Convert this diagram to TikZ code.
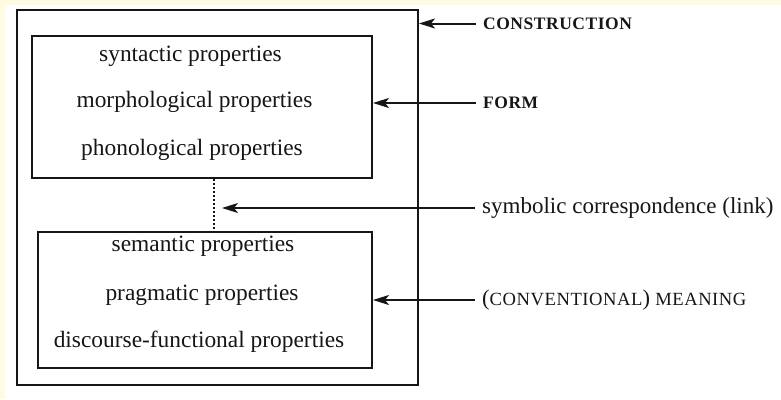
\documentclass[tikz,border=0pt]{standalone}
\usepackage{fontspec}
\setmainfont{Liberation Serif}
\newfontfamily\capsfont[LetterSpace=3]{Liberation Serif}
\usetikzlibrary{arrows.meta}
\definecolor{cream}{RGB}{255,251,226}
\definecolor{ink}{RGB}{22,22,22}
\tikzset{
  boxline/.style={draw=ink, line width=2pt, inner sep=0pt},
  prop/.style={font=\fontsize{23.4}{25}\selectfont, text=ink, inner sep=0pt},
  lbl/.style={anchor=west, inner sep=0pt, text=ink},
  capslbl/.style={lbl, font=\capsfont\fontsize{18.6}{20}\selectfont},
  pointer/.style={draw=ink, line width=2pt, -{Stealth[length=16pt,width=10pt,inset=4pt]}},
  linkline/.style={draw=ink, line width=2pt, dotted}
}
\begin{document}
\begin{tikzpicture}[x=1pt,y=-1pt]
\useasboundingbox (0,0) rectangle (781,399);
\fill[cream] (0,0) rectangle (781,399);
\fill[white] (5,5) rectangle (781,399);
% boxes
\node[boxline, minimum width=401pt, minimum height=375pt] (cons) at (217.5,197.5) {};
\node[boxline, minimum width=340pt, minimum height=142pt] (form) at (202,107) {};
\node[boxline, minimum width=334pt, minimum height=136pt] (meaning) at (205,300) {};
% texts in boxes
\node[prop] (syn) at (190.5,56) {syntactic properties};
\node[prop] (mor) at (194.5,102) {morphological properties};
\node[prop] (pho) at (192,150) {phonological properties};
\node[prop] (sem) at (203,246.5) {semantic properties};
\node[prop] (pra) at (202,295) {pragmatic properties};
\node[prop] (dis) at (199,341.5) {discourse-functional properties};
% link
\coordinate (lk) at (214,205);
\draw[linkline] (lk |- form.south) -- (lk |- meaning.north);
% labels
\node[capslbl, font=\capsfont\bfseries\fontsize{17.5}{20}\selectfont] (lcons) at (483,23.5) {CONSTRUCTION};
\node[capslbl, font=\capsfont\bfseries\fontsize{17.5}{20}\selectfont] (lform) at (483,103) {FORM};
\node[lbl, font=\fontsize{23}{25}\selectfont] (lsym) at (482,208) {symbolic correspondence (link)};
\node[capslbl] (lmean) at (482,300) {{\fontsize{22.5}{24}\selectfont(}CONVENTIONAL{\fontsize{22.5}{24}\selectfont)} MEANING};
% pointers
\draw[pointer] ([xshift=-7pt]lcons.west) -- (lcons.west -| cons.east);
\draw[pointer] ([xshift=-7pt]lform.west) -- (lform.west -| form.east);
\draw[pointer] ([xshift=-7pt]lsym.west) -- ([xshift=8pt]lk |- lsym.west);
\draw[pointer] ([xshift=-7pt]lmean.west) -- (lmean.west -| meaning.east);
\end{tikzpicture}
\end{document}
